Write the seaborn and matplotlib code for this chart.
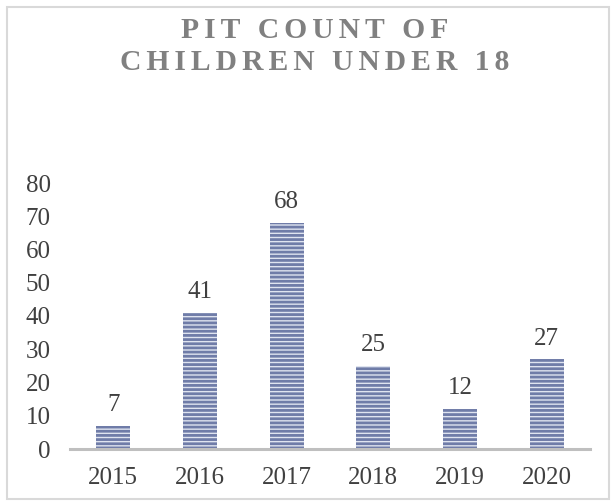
import matplotlib
matplotlib.use("Agg")
import matplotlib.pyplot as plt
import seaborn as sns
import pandas as pd
from matplotlib.patches import Rectangle

years = ["2015", "2016", "2017", "2018", "2019", "2020"]
counts = [7, 41, 68, 25, 12, 27]
title_lines = ["PIT COUNT OF", "CHILDREN UNDER 18"]

df = pd.DataFrame({"year": years, "count": counts})

sns.set_style("white")
plt.rcParams['font.family'] = ['Liberation Serif', 'DejaVu Serif']
plt.rcParams['hatch.linewidth'] = 2.0

fig = plt.figure(figsize=(6.11, 5.01), dpi=100)
ax = fig.add_axes([70 / 611, 52 / 501, 520 / 611, 266 / 501])

sns.barplot(data=df, x="year", y="count", color="#dfe4f0", saturation=1,
            width=0.39, hatch="----", edgecolor="#6f7ca8", linewidth=0, ax=ax)

ax.set_ylim(0, 80)
ax.set_yticks(range(0, 81, 10))
ax.set_xlabel("")
ax.set_ylabel("")
for s in ["top", "right", "left"]:
    ax.spines[s].set_visible(False)
ax.spines["bottom"].set_color("#bfbfbf")
ax.spines["bottom"].set_linewidth(2.2)
ax.tick_params(axis="both", length=0, labelsize=18, labelcolor="#404040")
ax.tick_params(axis="y", pad=14)
ax.tick_params(axis="x", pad=13)

ax.bar_label(ax.containers[0], labels=[str(c) for c in counts],
             fontsize=18, color="#404040", padding=7)

# spaced-out title
hs = "\u200a\u200a"
for i, line in enumerate(title_lines):
    fig.text(315 / 611, 1 - (31 + 32 * i) / 501, hs.join(line), ha="center", va="center",
             fontsize=21.3, fontweight="bold", color="#808080")

# chart border
fig.patches.append(Rectangle((7 / 611, 2 / 501), 602 / 611, 492 / 501,
                             transform=fig.transFigure, fill=False,
                             edgecolor="#d9d9d9", linewidth=1.5))

fig.savefig("out.png", dpi=100)
